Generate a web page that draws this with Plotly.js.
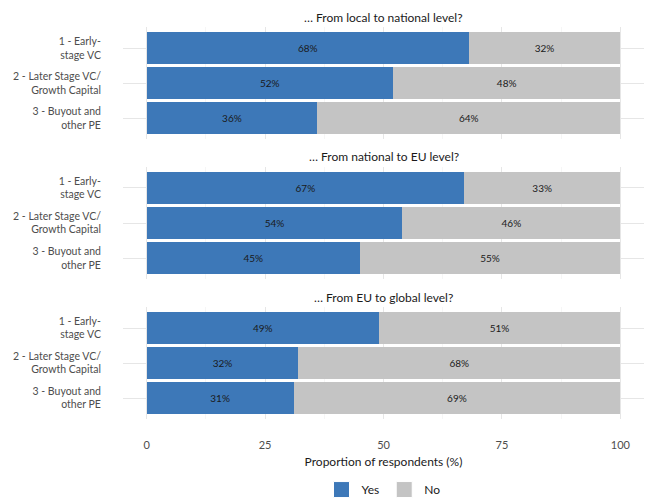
<!DOCTYPE html>
<html>
<head>
<meta charset="utf-8">
<script src="https://cdn.plot.ly/plotly-3.0.1.min.js"></script>
<style>html,body{margin:0;padding:0;background:#fff;}#chart{width:646px;height:501px;}</style>
</head>
<body>
<div id="chart"></div>
<script>
const categories = ["1 - Early-<br>stage VC", "2 - Later Stage VC/<br>Growth Capital", "3 - Buyout and<br>other PE"];
const panelTitles = ["… From local to national level?", "… From national to EU level?", "… From EU to global level?"];
const yesLocalNational = [68, 52, 36];
const noLocalNational = [32, 48, 64];
const yesNationalEU = [67, 54, 45];
const noNationalEU = [33, 46, 55];
const yesEUGlobal = [49, 32, 31];
const noEUGlobal = [51, 68, 69];
const xTicks = [0, 25, 50, 75, 100];
const seriesNames = ["Yes", "No"];

const yesSeries = [yesLocalNational, yesNationalEU, yesEUGlobal];
const noSeries = [noLocalNational, noNationalEU, noEUGlobal];

const FONT = "Lato, 'Noto Sans', sans-serif";
const BLUE = "#3d78b8";
const GREY = "#c4c4c4";
const domains = [[0.714, 1], [0.357, 0.643], [0, 0.2857]];

const traces = [];
const layout = {
  width: 646, height: 501,
  margin: {l: 123, r: 2, t: 27, b: 82, autoexpand: false},
  paper_bgcolor: "#fff", plot_bgcolor: "#fff",
  font: {family: FONT, size: 11, color: "#4d4d4d"},
  barmode: "stack",
  bargap: 0.1,
  showlegend: true,
  legend: {orientation: "h", x: 0.5, xanchor: "center", y: -0.18, yanchor: "middle",
           font: {family: FONT, size: 12, color: "#1a1a1a"}, traceorder: "normal", itemsizing: "trace"},
  annotations: []
};

for (let p = 0; p < 3; p++) {
  const sfx = p === 0 ? "" : String(p + 1);
  const xa = "x" + sfx, ya = "y" + sfx;
  traces.push({
    type: "bar", orientation: "h", name: seriesNames[0], showlegend: false,
    x: yesSeries[p], y: categories, xaxis: xa, yaxis: ya,
    marker: {color: BLUE},
    text: yesSeries[p].map(v => v + "%"), textposition: "inside", insidetextanchor: "middle",
    textfont: {family: FONT, size: 10, color: "#1a1a1a"}, constraintext: "none",
    hoverinfo: "x+y"
  });
  traces.push({
    type: "bar", orientation: "h", name: seriesNames[1], showlegend: false,
    x: noSeries[p], y: categories, xaxis: xa, yaxis: ya,
    marker: {color: GREY},
    text: noSeries[p].map(v => v + "%"), textposition: "inside", insidetextanchor: "middle",
    textfont: {family: FONT, size: 10, color: "#1a1a1a"}, constraintext: "none",
    hoverinfo: "x+y"
  });
  const last = p === 2;
  layout["xaxis" + sfx] = {
    anchor: ya, range: [-5, 105], tickvals: xTicks, ticktext: xTicks.map(String),
    showticklabels: last, showgrid: true, gridcolor: "#e6e6e6", gridwidth: 1,
    zeroline: false, showline: false,
    ticks: last ? "outside" : "", ticklen: 16, tickcolor: "rgba(0,0,0,0)",
    tickfont: {family: FONT, size: 11, color: "#4d4d4d"},
    minor: {tickvals: [12.5, 37.5, 62.5, 87.5], showgrid: true, gridcolor: "#f0f0f0", gridwidth: 0.6},
    fixedrange: true,
    title: last ? {text: "Proportion of respondents (%)", standoff: 7, font: {family: FONT, size: 12, color: "#1a1a1a"}} : {text: ""}
  };
  layout["yaxis" + sfx] = {
    anchor: xa, domain: domains[p], type: "category",
    categoryorder: "array", categoryarray: categories.slice().reverse(),
    range: [-0.6, 2.6],
    showgrid: true, gridcolor: "#e6e6e6", gridwidth: 1, zeroline: false, showline: false,
    ticks: "outside", ticklen: 19, tickcolor: "rgba(0,0,0,0)",
    tickfont: {family: FONT, size: 10.5, color: "#4d4d4d"},
    fixedrange: true
  };
  layout.annotations.push({
    text: panelTitles[p], xref: "x" + sfx, x: 50, yref: "paper", y: domains[p][1],
    yshift: 10, showarrow: false, xanchor: "center", yanchor: "middle",
    font: {family: FONT, size: 12, color: "#1a1a1a"}
  });
}

// legend-only entries (no data points)
[BLUE, GREY].forEach((c, i) => {
  traces.push({
    type: "scatter", mode: "markers", name: seriesNames[i], x: [null], y: [null],
    xaxis: "x3", yaxis: "y3", showlegend: true, hoverinfo: "skip",
    marker: {symbol: "square", size: 16, color: c, line: {color: "#ffffff", width: 1}}
  });
});

Plotly.newPlot("chart", traces, layout, {displayModeBar: false, staticPlot: true});
</script>
</body>
</html>
